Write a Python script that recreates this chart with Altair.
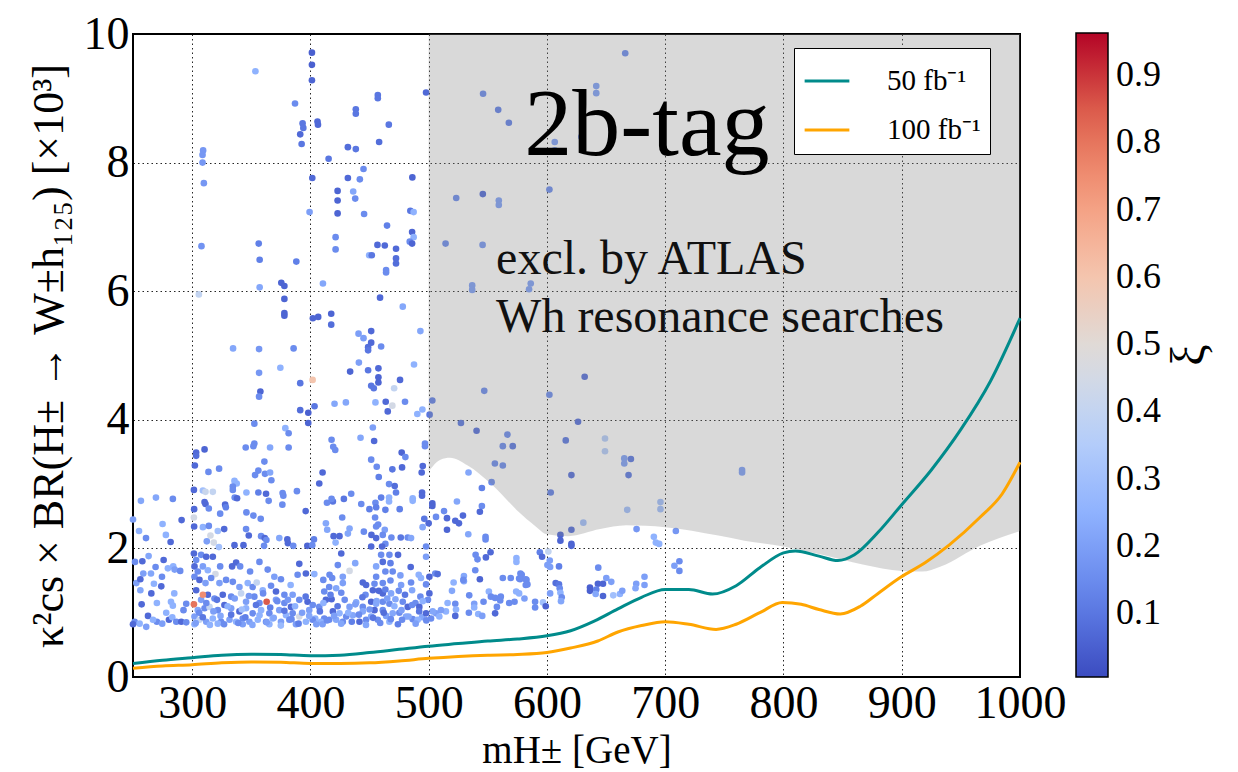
import altair as alt
import pandas as pd

# ---------------- data ----------------
# scatter points: (m_H [GeV], kappa^2 x BR [x1e3], xi)
pts_upper_left = [
    (401.3, 9.71, 0.05), (401.3, 9.52, 0.05), (401.3, 9.28, 0.06), (353.5, 9.42, 0.25),
    (387, 8.92, 0.15), (393.4, 8.61, 0.1), (394, 8.54, 0.1), (391.4, 8.44, 0.07),
    (392.6, 8.29, 0.1), (406, 8.64, 0.07), (406.4, 8.59, 0.07), (415.4, 8.06, 0.1),
    (309.3, 8.19, 0.18), (308.8, 8.12, 0.18), (308.8, 8.0, 0.18), (309.9, 7.68, 0.18),
    (401.6, 7.76, 0.07), (399.3, 7.23, 0.2), (307.9, 6.70, 0.17), (356.3, 6.74, 0.12),
    (357.1, 6.49, 0.12), (388.1, 6.46, 0.12), (357.1, 6.06, 0.22), (305.7, 5.95, 0.4),
    (375.4, 6.13, 0.06), (378, 6.08, 0.06), (378, 5.88, 0.06), (378, 5.66, 0.06),
    (378, 5.62, 0.06), (410.6, 6.12, 0.22), (402.1, 5.58, 0.06), (406.6, 5.6, 0.06),
    (417.6, 5.65, 0.06), (417.6, 5.48, 0.08), (334.6, 5.11, 0.22), (356.6, 5.10, 0.18),
    (385.8, 5.11, 0.15), (374.6, 4.81, 0.25), (356.6, 4.73, 0.18), (401.9, 4.62, 0.6),
    (391.4, 4.57, 0.1), (357.7, 4.44, 0.06), (356.6, 4.36, 0.15), (403.5, 4.21, 0.1),
    (391.4, 4.15, 0.08), (398.2, 4.11, 0.05), (352.6, 3.94, 0.15), (398.2, 3.95, 0.06),
]

pts_upper_mid = [
    (457, 9.05, 0.1), (457, 9.0, 0.1), (497.8, 9.09, 0.07), (438.4, 8.83, 0.1),
    (438.4, 8.76, 0.1), (466.3, 8.59, 0.1), (458.1, 8.32, 0.08), (431.7, 8.24, 0.08),
    (438.4, 8.21, 0.1), (444.9, 7.90, 0.15), (431.7, 7.76, 0.07), (441.8, 7.74, 0.15),
    (486.2, 7.77, 0.06), (423, 7.56, 0.06), (436.2, 7.55, 0.22), (437.9, 7.44, 0.15),
    (423, 7.41, 0.06), (423, 7.21, 0.06), (445.4, 7.2, 0.15), (484.5, 7.25, 0.1),
    (487.3, 7.23, 0.25), (464.8, 7.02, 0.12), (421.3, 6.84, 0.15), (421.3, 6.65, 0.15),
    (456.7, 6.72, 0.07), (462.9, 6.71, 0.07), (486, 6.92, 0.06), (487.3, 6.84, 0.25),
    (484, 6.77, 0.15), (486, 6.74, 0.06), (472.4, 6.66, 0.07), (472.4, 6.51, 0.08),
    (472.4, 6.43, 0.08), (449.7, 6.56, 0.25), (451.9, 6.56, 0.1), (464, 6.33, 0.15),
    (464, 6.29, 0.15), (458.9, 5.90, 0.07), (478.1, 5.76, 0.22), (440.7, 5.34, 0.2),
    (444.9, 5.27, 0.2), (451.4, 5.38, 0.07), (451.4, 5.20, 0.07), (448.8, 5.13, 0.08),
    (448.8, 5.08, 0.1), (459.8, 5.14, 0.15), (493, 5.38, 0.22), (441, 4.89, 0.2),
    (433.6, 4.75, 0.06), (448.8, 4.77, 0.1), (457.5, 4.80, 0.07), (457.5, 4.66, 0.06),
    (457.5, 4.58, 0.06), (451.4, 4.53, 0.1), (453.6, 4.49, 0.1), (475.8, 4.62, 0.07),
    (470.8, 4.49, 0.4), (487.6, 4.86, 0.25), (420.4, 4.25, 0.22), (430, 4.27, 0.22),
    (455, 4.27, 0.25), (463.7, 4.28, 0.07), (469.3, 4.22, 0.45), (480, 4.28, 0.15),
    (465.4, 4.13, 0.07), (490.4, 4.09, 0.25), (494.7, 4.16, 0.25), (500.8, 4.08, 0.1),
    (503.1, 4.30, 0.12), (546, 9.07, 0.15), (558.8, 8.82, 0.12), (567.8, 8.62, 0.12),
    (523.3, 7.45, 0.15), (545.8, 7.51, 0.07), (559.3, 7.41, 0.2), (559.3, 7.34, 0.2),
    (514.3, 6.74, 0.15), (545.6, 6.72, 0.18), (536.8, 6.09, 0.2), (536.8, 6.02, 0.2),
    (547, 4.45, 0.15), (527.3, 3.95, 0.1),
]

pts_upper_right = [
    (666.2, 9.70, 0.15), (641.7, 9.19, 0.2), (641.7, 9.08, 0.2), (629.1, 8.40, 0.15),
    (606.6, 8.32, 0.2), (606.6, 8.19, 0.2), (602.1, 7.58, 0.15), (586.3, 6.12, 0.2),
    (584.9, 6.03, 0.2), (631.9, 4.67, 0.08), (602.1, 4.39, 0.15), (626.3, 3.97, 0.08),
    (765, 3.22, 0.2), (765, 3.18, 0.2),
]

pts_lower_right = [
    (615.9, 3.68, 0.1), (649.1, 3.71, 0.35), (649.1, 3.51, 0.35), (665.4, 3.40, 0.2),
    (665.4, 3.32, 0.2), (671, 3.39, 0.1), (620.7, 3.14, 0.08), (669, 3.14, 0.1),
    (603.2, 2.87, 0.12), (630.8, 2.40, 0.3), (696, 2.72, 0.3), (696, 2.61, 0.3),
    (667.9, 2.60, 0.3), (620.7, 2.29, 0.08), (611.4, 2.21, 0.06), (611.4, 2.12, 0.06),
    (620.7, 2.07, 0.06), (620.7, 2.04, 0.06), (675.8, 2.30, 0.18), (690.4, 2.18, 0.25),
    (692.1, 2.09, 0.25), (694.9, 2.07, 0.25), (709, 2.27, 0.18), (594, 1.94, 0.12),
    (595.9, 1.87, 0.07), (601.2, 1.95, 0.4), (602.4, 1.81, 0.2), (600.4, 1.74, 0.2),
    (602.7, 1.71, 0.2), (610.2, 1.72, 0.12), (643.4, 1.70, 0.15), (712, 1.80, 0.15),
    (707.8, 1.73, 0.2), (712, 1.65, 0.15), (650.2, 1.54, 0.2), (654.4, 1.48, 0.2),
    (682.5, 1.56, 0.2), (675.5, 1.45, 0.2), (682.5, 1.43, 0.2), (674.9, 1.38, 0.22),
    (607.4, 1.46, 0.08), (610.2, 1.44, 0.1), (610.8, 1.38, 0.15), (611.4, 1.31, 0.25),
    (636.4, 1.39, 0.05), (636.4, 1.34, 0.05), (643.1, 1.45, 0.06), (647.4, 1.45, 0.06),
    (641.7, 1.36, 0.12), (641.2, 1.29, 0.22), (647.4, 1.26, 0.06), (656.1, 1.27, 0.3),
    (661.7, 1.29, 0.25), (663.7, 1.34, 0.2), (612.5, 1.24, 0.15), (611.9, 1.18, 0.22),
    (602.7, 1.30, 0.2), (581, 1.22, 0.2), (590, 1.17, 0.15), (590, 1.08, 0.15),
    (596.7, 1.16, 0.3), (599, 1.10, 0.05), (576.5, 1.53, 0.15), (578.7, 1.59, 0.15),
    (582.7, 1.51, 0.15), (583.5, 1.44, 0.15), (576.5, 1.30, 0.25),
]

pts_lower_mid = [
    (540.5, 3.83, 0.08), (566.6, 3.77, 0.15), (562.7, 3.59, 0.15), (571.1, 3.59, 0.1),
    (556, 3.32, 0.15), (562.7, 3.29, 0.15), (553.2, 3.03, 0.15), (533.7, 3.18, 0.22),
    (545, 2.94, 0.12), (503.1, 2.70, 0.06), (503.1, 2.66, 0.06), (523.9, 2.73, 0.22),
    (545, 2.66, 0.15), (543.3, 2.57, 0.07), (513, 2.58, 0.15), (506.2, 2.49, 0.15),
    (515.5, 2.47, 0.07), (522.5, 2.43, 0.07), (525.6, 2.39, 0.07), (529, 2.51, 0.07),
    (515.5, 2.29, 0.06), (533.5, 2.22, 0.22), (548.1, 2.18, 0.15), (548.1, 2.14, 0.15),
    (539.7, 1.90, 0.15), (541.3, 1.83, 0.15), (548.4, 1.86, 0.07), (552.3, 1.94, 0.07),
    (574.2, 1.85, 0.25), (574.2, 1.79, 0.25), (539.4, 1.66, 0.15), (543.3, 1.52, 0.06),
    (529.8, 1.57, 0.22), (529.8, 1.49, 0.22), (521.1, 1.47, 0.25), (505.6, 1.61, 0.15),
    (507.6, 1.60, 0.08), (562.7, 1.54, 0.15), (569.4, 1.54, 0.15), (577.6, 1.61, 0.15),
    (577.3, 1.52, 0.15), (582.1, 1.52, 0.15), (582.1, 1.43, 0.15), (574, 1.33, 0.25),
    (550.9, 1.33, 0.25), (552.6, 1.25, 0.15), (556.2, 1.23, 0.15), (561, 1.25, 0.15),
    (560.5, 1.19, 0.15), (557.7, 1.09, 0.15), (556.2, 0.99, 0.07), (568.1, 1.15, 0.15),
    (572.6, 1.17, 0.15), (546.4, 1.17, 0.15), (538.5, 1.14, 0.2), (538.5, 1.08, 0.25),
    (541.9, 0.98, 0.25), (545.3, 0.95, 0.2), (534, 1.00, 0.15), (534.3, 1.27, 0.15),
    (522.5, 1.14, 0.15), (523.1, 1.05, 0.25), (522.5, 0.95, 0.07), (516, 1.15, 0.25),
    (514.6, 1.02, 0.25), (519.7, 1.34, 0.22), (529.3, 1.51, 0.15), (510.4, 1.04, 0.2),
    (506.2, 0.99, 0.2), (503.4, 1.02, 0.22), (502, 0.91, 0.15), (509, 0.94, 0.25),
    (452.8, 3.88, 0.2), (442.4, 3.72, 0.22), (453.9, 3.67, 0.07), (417.9, 3.69, 0.15),
    (419.3, 3.58, 0.15), (421, 3.53, 0.15), (496.9, 3.63, 0.15), (496.9, 3.59, 0.15),
    (477.2, 3.49, 0.06), (480.3, 3.42, 0.15), (451.4, 3.38, 0.15), (495, 3.28, 0.07),
    (456.1, 3.27, 0.15), (469.3, 3.23, 0.1), (477.5, 3.26, 0.07), (494.1, 3.18, 0.07),
    (457.8, 3.11, 0.12), (466.5, 3.00, 0.15), (471.3, 2.97, 0.08), (472.4, 2.87, 0.12),
    (434.5, 2.85, 0.15), (428.3, 2.77, 0.1), (419, 2.73, 0.1), (459.8, 2.79, 0.12),
    (466.5, 2.79, 0.25), (466.5, 2.73, 0.25), (455, 2.71, 0.15), (443, 2.69, 0.15),
    (449.9, 2.61, 0.12), (455.6, 2.64, 0.12), (463.4, 2.60, 0.12), (475.5, 2.61, 0.12),
    (486.5, 2.78, 0.25), (486.5, 2.74, 0.25), (494.4, 2.87, 0.07), (494.4, 2.82, 0.07),
    (426.9, 2.48, 0.15), (454.7, 2.48, 0.15), (496.3, 2.46, 0.1), (500, 2.39, 0.07),
    (494.9, 2.33, 0.22), (455.6, 2.34, 0.15), (457.3, 2.37, 0.15), (433.1, 2.31, 0.22),
    (431.7, 2.23, 0.22), (445.2, 2.26, 0.15), (462.9, 2.29, 0.2), (451.6, 2.21, 0.07),
    (455.6, 2.16, 0.07), (461.2, 2.21, 0.15), (468.5, 2.17, 0.15), (463.4, 2.07, 0.15),
    (476.4, 2.17, 0.1), (482.3, 2.17, 0.15), (485.1, 2.16, 0.22), (419.6, 2.19, 0.07),
    (424.6, 2.19, 0.07), (421.3, 2.09, 0.25), (451.4, 2.03, 0.07), (460.6, 2.03, 0.07),
    (426.1, 1.92, 0.07), (459.8, 1.90, 0.15), (466.8, 1.90, 0.15), (474.1, 1.90, 0.07),
    (497.8, 2.03, 0.15), (497.8, 1.87, 0.2), (461.2, 1.79, 0.08), (467.7, 1.77, 0.12),
    (455.6, 1.72, 0.22), (484.8, 1.71, 0.07), (423.2, 1.74, 0.15), (437.9, 1.77, 0.22),
    (433.1, 1.65, 0.45), (427.4, 1.56, 0.2), (416.2, 1.59, 0.15), (463.4, 1.64, 0.15),
    (469.6, 1.64, 0.15), (476.1, 1.58, 0.2), (491.6, 1.59, 0.25), (500.6, 1.56, 0.06),
    (455.6, 1.56, 0.15), (444.3, 1.47, 0.07), (447.1, 1.43, 0.07), (454.2, 1.45, 0.15),
    (461.2, 1.46, 0.15), (467.7, 1.50, 0.15), (476.7, 1.43, 0.2), (485.1, 1.47, 0.15),
    (493.5, 1.54, 0.25), (497.8, 1.44, 0.15), (418.4, 1.54, 0.15), (427.4, 1.46, 0.2),
    (421.8, 1.38, 0.22), (426.1, 1.31, 0.15), (417.9, 1.21, 0.07), (433.1, 1.09, 0.2),
    (438.7, 1.16, 0.22), (446.6, 1.28, 0.15), (452.8, 1.35, 0.07), (457.8, 1.34, 0.07),
    (461.2, 1.30, 0.07), (463.4, 1.36, 0.12), (468.2, 1.30, 0.22), (474.7, 1.34, 0.15),
    (486, 1.35, 0.22), (493, 1.25, 0.15), (500.6, 1.30, 0.07), (499.4, 1.20, 0.15),
    (451.4, 1.17, 0.06), (455.6, 1.14, 0.22), (461.2, 1.17, 0.15), (466.8, 1.14, 0.15),
    (471.9, 1.21, 0.22), (478.1, 1.17, 0.15), (482.3, 1.09, 0.07), (488.8, 1.15, 0.15),
    (492.1, 1.09, 0.07), (454.2, 1.04, 0.07), (461.2, 1.04, 0.15), (464, 0.95, 0.2),
    (469.6, 0.99, 0.22), (475.2, 1.00, 0.15), (480.9, 0.94, 0.22), (486.5, 0.90, 0.15),
    (494.4, 0.93, 0.22), (497.8, 0.99, 0.07), (419, 1.02, 0.07), (424.6, 0.99, 0.25),
    (421.8, 0.89, 0.22), (430.3, 0.94, 0.15), (435.9, 0.96, 0.22), (441.5, 0.86, 0.07),
    (447.1, 0.89, 0.15), (451.4, 0.94, 0.22), (457, 0.89, 0.15), (466.8, 0.86, 0.25),
    (477.5, 0.89, 0.15), (490.7, 0.89, 0.25), (427.4, 0.86, 0.15), (444.3, 1.09, 0.15),
    (444.3, 1.02, 0.22),
]

pts_lower_left = [
    (378.8, 3.87, 0.25), (381.6, 3.79, 0.15), (365.9, 3.57, 0.22), (352.6, 3.63, 0.15),
    (351.8, 3.59, 0.15), (345.3, 3.57, 0.15), (381.6, 3.57, 0.15), (361.1, 3.35, 0.15),
    (310.5, 3.54, 0.06), (303.4, 3.49, 0.07), (303.4, 3.44, 0.08), (302.3, 3.29, 0.07),
    (313.8, 3.19, 0.15), (322.8, 3.24, 0.15), (356, 3.21, 0.15), (353.2, 3.14, 0.15),
    (361.6, 3.16, 0.15), (365.9, 3.18, 0.22), (367, 3.06, 0.15), (335.8, 3.05, 0.25),
    (337.7, 3.01, 0.25), (334.4, 2.96, 0.15), (334.4, 2.91, 0.15), (301.5, 2.91, 0.07),
    (309.1, 2.90, 0.3), (317.5, 2.88, 0.4), (311.3, 2.88, 0.42), (345.9, 2.87, 0.25),
    (356, 2.87, 0.12), (362.5, 2.85, 0.07), (376.5, 2.86, 0.15), (377.1, 2.82, 0.15),
    (388.6, 2.89, 0.15), (364.7, 2.74, 0.15), (336, 2.79, 0.15), (338, 2.78, 0.07),
    (310.5, 2.72, 0.07), (311.3, 2.69, 0.07), (314.1, 2.62, 0.15), (327.9, 2.68, 0.07),
    (328.5, 2.64, 0.12), (301.7, 2.61, 0.07), (323.7, 2.54, 0.15), (345.9, 2.56, 0.15),
    (376.3, 2.68, 0.15), (396, 2.58, 0.07), (351.8, 2.51, 0.15), (358, 2.46, 0.15),
    (301.5, 2.48, 0.45), (301.7, 2.34, 0.07), (309.1, 2.33, 0.25), (314.1, 2.35, 0.15),
    (321.7, 2.27, 0.3), (327.1, 2.30, 0.07), (345.6, 2.30, 0.15), (347.9, 2.20, 0.07),
    (358.3, 2.19, 0.15), (361.4, 2.16, 0.07), (362.8, 2.13, 0.15), (373.7, 2.16, 0.22),
    (380.5, 2.14, 0.07), (381, 2.08, 0.07), (403, 2.14, 0.12), (315.5, 2.20, 0.45),
    (318.3, 2.09, 0.45), (322.6, 2.02, 0.3), (312.4, 2.11, 0.2), (335.8, 2.05, 0.07),
    (343.4, 2.05, 0.07), (360.8, 2.04, 0.15), (385.5, 2.04, 0.15), (397.4, 2.04, 0.06),
    (401.6, 2.05, 0.15), (414, 2.71, 0.15), (410.3, 3.18, 0.07), (407.5, 3.01, 0.07),
    (417.9, 2.77, 0.15), (413.1, 2.39, 0.22), (414.2, 2.29, 0.22),
    (256.7, 2.74, 0.22), (269.4, 2.79, 0.22), (283.7, 2.77, 0.15), (291.1, 2.44, 0.07),
    (275, 2.38, 0.25), (255.1, 2.27, 0.25), (277.8, 2.21, 0.25), (261, 2.16, 0.15),
    (281.8, 2.10, 0.07), (250, 2.45, 0.2), (257.9, 1.80, 0.07), (251.7, 1.79, 0.15),
    (263.2, 1.88, 0.22), (269.1, 1.71, 0.15), (275.9, 1.82, 0.07), (279.5, 1.69, 0.25),
    (284, 1.72, 0.25), (285.2, 1.67, 0.2), (289.9, 1.65, 0.15), (258.7, 1.61, 0.2),
    (265.2, 1.61, 0.22), (274.5, 1.56, 0.15), (252.8, 1.46, 0.2), (267.7, 1.45, 0.25),
    (273.9, 1.41, 0.07), (256.2, 1.35, 0.22), (265.5, 1.30, 0.07), (284.9, 1.30, 0.25),
    (257.3, 1.13, 0.07), (270.2, 1.15, 0.25), (282.1, 1.17, 0.25), (283.7, 1.11, 0.25),
    (295, 1.14, 0.15), (256.2, 1.52, 0.07), (292.7, 1.04, 0.15), (262.7, 0.95, 0.07),
    (251.4, 0.86, 0.15), (255.6, 0.83, 0.25), (261.2, 0.78, 0.2), (270.2, 0.86, 0.15),
    (274.7, 0.83, 0.2), (278.1, 1.00, 0.25), (280.4, 0.89, 0.07), (283.2, 0.93, 0.25),
    (286.6, 0.86, 0.15), (290.8, 0.86, 0.07), (295, 0.85, 0.15), (250, 0.82, 0.07),
    (266.9, 0.89, 0.25),
]

pts_dense_band = [
    (301.5, 1.92, 0.07), (307.6, 1.90, 0.15), (311.9, 1.87, 0.07), (317.5, 1.87, 0.07),
    (323.7, 1.72, 0.15), (333.8, 1.72, 0.07), (337.2, 1.78, 0.07), (340.6, 1.72, 0.15),
    (349, 1.64, 0.15), (356.9, 1.79, 0.15), (363.9, 1.67, 0.15), (369.5, 1.56, 0.2),
    (375.1, 1.52, 0.15), (383.3, 1.43, 0.25), (390.6, 1.76, 0.07), (389.2, 1.59, 0.15),
    (396.2, 1.61, 0.07), (403.3, 1.60, 0.25), (410.9, 1.51, 0.15), (415.9, 1.40, 0.15),
    (411.7, 1.33, 0.15), (413.1, 1.20, 0.07), (407.5, 1.09, 0.15), (397.6, 1.17, 0.07),
    (399, 1.04, 0.2), (404.1, 0.91, 0.25), (411.7, 0.91, 0.15), (390.6, 0.94, 0.45),
    (303.4, 1.82, 0.15), (302, 1.72, 0.07), (304.8, 1.64, 0.15), (309.1, 1.72, 0.2),
    (313.3, 1.66, 0.25), (319.7, 1.60, 0.45), (302, 1.56, 0.15), (306.2, 1.51, 0.07),
    (311.3, 1.46, 0.2), (316.1, 1.54, 0.15), (323.1, 1.46, 0.2), (328.7, 1.51, 0.15),
    (334.4, 1.48, 0.15), (340, 1.40, 0.2), (347, 1.46, 0.25), (351.2, 1.40, 0.15),
    (354.6, 1.47, 0.4), (359.7, 1.35, 0.25), (366.7, 1.42, 0.15), (370.9, 1.33, 0.07),
    (378, 1.28, 0.15), (385, 1.28, 0.2), (390.6, 1.20, 0.15), (303.4, 1.35, 0.07),
    (307.6, 1.20, 0.2), (313.3, 1.28, 0.07), (318.9, 1.22, 0.15), (325.9, 1.28, 0.07),
    (333, 1.25, 0.15), (341.4, 1.30, 0.4), (345.6, 1.17, 0.2), (352.6, 1.25, 0.15),
    (356.9, 1.15, 0.15), (370.9, 1.20, 0.2), (378, 1.15, 0.15), (383.6, 1.09, 0.07),
    (304.8, 1.04, 0.22), (310.5, 1.07, 0.15), (314.7, 1.09, 0.4), (321.7, 1.04, 0.15),
    (327.3, 1.12, 0.07), (333, 1.07, 0.2), (340, 1.02, 0.07), (345.6, 1.07, 0.25),
    (351.2, 0.99, 0.15), (358.3, 1.04, 0.25), (365.3, 0.99, 0.15), (373.7, 1.04, 0.2),
    (379.4, 0.96, 0.25), (385, 0.99, 0.15), (302, 0.94, 0.2), (306.2, 0.89, 0.4),
    (311.9, 0.86, 0.2), (317.5, 0.91, 0.25), (324.5, 0.86, 0.15), (331.6, 0.89, 0.2),
    (337.2, 0.86, 0.25), (342.8, 0.91, 0.15), (348.4, 0.86, 0.2), (355.5, 0.89, 0.25),
    (362.5, 0.86, 0.15), (368.1, 0.91, 0.25), (375.1, 0.86, 0.2), (382.2, 0.89, 0.15),
    (396.2, 0.86, 0.25), (401.9, 0.89, 0.15), (408.9, 0.86, 0.25), (415.9, 0.89, 0.15),
    (321.7, 0.83, 0.25), (342.8, 0.82, 0.2), (365.3, 0.82, 0.25), (387.8, 0.82, 0.2),
    (302, 0.82, 0.25), (410.3, 0.82, 0.2),
    (303, 0.84, 0.2), (306, 1.0, 0.15), (309, 0.93, 0.1), (312, 1.15, 0.15), (315, 0.81, 0.25),
    (318, 1.02, 0.2), (321, 1.2, 0.1), (324, 0.95, 0.22), (327, 0.82, 0.15), (330, 1.1, 0.25),
    (333, 0.97, 0.1), (336, 1.22, 0.2), (339, 0.84, 0.15), (342, 1.05, 0.3), (345, 0.93, 0.12),
    (348, 1.26, 0.18), (351, 0.81, 0.22), (354, 1.12, 0.1), (357, 0.96, 0.25), (360, 1.3, 0.15),
    (363, 0.85, 0.2), (366, 1.08, 0.12), (369, 0.92, 0.22), (372, 1.18, 0.15), (375, 0.8, 0.28),
    (378, 1.03, 0.1), (381, 1.2, 0.18), (384, 0.9, 0.15), (387, 1.1, 0.25), (390, 0.83, 0.12),
    (393, 1.0, 0.2), (396, 1.25, 0.1), (399, 0.95, 0.22), (402, 1.12, 0.15), (405, 0.82, 0.2),
    (408, 1.02, 0.1), (411, 1.15, 0.25), (414, 0.88, 0.15), (417, 1.28, 0.12), (420, 0.95, 0.2),
    (423, 1.1, 0.1), (426, 0.83, 0.22), (429, 1.2, 0.15), (432, 1.0, 0.25), (435, 0.86, 0.12),
    (438, 1.13, 0.2), (441, 0.97, 0.15), (444, 1.24, 0.1), (447, 0.81, 0.22), (450, 1.05, 0.18),
    (453, 0.92, 0.1), (456, 1.18, 0.22), (459, 0.84, 0.15), (462, 1.0, 0.08), (465, 1.22, 0.2),
    (468, 0.9, 0.15), (471, 1.1, 0.25), (474, 0.82, 0.12), (477, 1.04, 0.2), (480, 1.28, 0.1),
    (483, 0.94, 0.22), (486, 1.12, 0.15), (489, 0.83, 0.2), (492, 1.02, 0.1), (495, 1.18, 0.25),
    (498, 0.88, 0.15),
    (363, 1.17, 0.85), (301.5, 1.13, 0.8), (309.1, 1.28, 0.75),
]

# 50 fb^-1 projected reach
reach50_m = [250, 275, 300, 325, 350, 375, 400, 425, 450, 475, 500, 525, 550, 575, 600, 620,
             640, 660, 680, 700, 720, 740, 760, 780, 800, 810, 830, 846, 860, 880, 900, 925,
             950, 975, 1000]
reach50_v = [0.21, 0.26, 0.30, 0.34, 0.355, 0.35, 0.33, 0.34, 0.38, 0.43, 0.48, 0.52, 0.56,
             0.59, 0.64, 0.72, 0.87, 1.06, 1.24, 1.36, 1.36, 1.29, 1.42, 1.70, 1.93, 1.96,
             1.88, 1.81, 1.90, 2.25, 2.68, 3.22, 3.85, 4.6, 5.58]
# 100 fb^-1 projected reach
reach100_m = [250, 275, 300, 325, 350, 375, 400, 425, 450, 475, 500, 525, 550, 575, 600, 620,
              643, 660, 680, 700, 720, 743, 760, 780, 799, 815, 830, 848, 865, 880, 899, 920,
              940, 966, 985, 1000]
reach100_v = [0.135, 0.17, 0.19, 0.22, 0.235, 0.23, 0.21, 0.21, 0.22, 0.25, 0.29, 0.32, 0.34,
              0.35, 0.38, 0.45, 0.56, 0.70, 0.80, 0.86, 0.82, 0.74, 0.82, 1.0, 1.16, 1.13,
              1.05, 0.98, 1.10, 1.30, 1.55, 1.78, 2.05, 2.48, 2.85, 3.34]
series_names = ["50 fb\u207b\u00b9", "100 fb\u207b\u00b9"]

# ATLAS Wh exclusion boundary
excl_m = [500, 510, 518, 533, 553, 576, 590, 600, 618, 645, 667, 700, 745, 767, 800, 833,
          867, 900, 917, 933, 967, 1000]
excl_v = [3.2, 3.38, 3.41, 3.29, 3.0, 2.57, 2.35, 2.22, 2.19, 2.30, 2.36, 2.33, 2.20, 2.12,
          2.03, 1.9, 1.75, 1.65, 1.64, 1.72, 2.05, 2.27]

x_ticks = [300, 400, 500, 600, 700, 800, 900, 1000]
y_ticks = [0, 2, 4, 6, 8, 10]
cbar_ticks = [0.1, 0.2, 0.3, 0.4, 0.5, 0.6, 0.7, 0.8, 0.9]
xi_min, xi_max = 0.005, 0.9625
coolwarm = ["#3b4cc0", "#6282ea", "#8db0fe", "#b8d0f9", "#dddddd",
            "#f5c4ad", "#f49a7b", "#de604d", "#b40426"]

annot_main = [(684.5, 8.12, "2b-tag")]
annot_excl = [(557.0, 6.27, "excl. by ATLAS"), (557.0, 5.37, "Wh resonance searches")]
cbar_title = "\u03be"

# ---------------- build tables ----------------
all_pts = (pts_upper_left + pts_upper_mid + pts_upper_right + pts_lower_right +
           pts_lower_mid + pts_lower_left + pts_dense_band)
df_pts = pd.DataFrame(all_pts, columns=["m", "v", "xi"])

df_lines = pd.concat([
    pd.DataFrame({"m": reach50_m, "v": reach50_v, "series": series_names[0]}),
    pd.DataFrame({"m": reach100_m, "v": reach100_v, "series": series_names[1]}),
])
df_excl = pd.DataFrame({"m": excl_m, "v": excl_v})
df_main = pd.DataFrame(annot_main, columns=["m", "v", "t"])
df_excl_txt = pd.DataFrame(annot_excl, columns=["m", "v", "t"])

n = len(coolwarm)
stops = [xi_min + (xi_max - xi_min) * i / (n - 1) for i in range(n)]

FONT = "Liberation Serif"

xscale = alt.Scale(domain=[250, 1000], nice=False, zero=False)
yscale = alt.Scale(domain=[0, 10], nice=False)

xaxis = alt.Axis(values=x_ticks, format="d", title="mH\u00b1 [GeV]", grid=True,
                 gridDash=[1.5, 3], gridColor="black", gridOpacity=0.85, gridWidth=1,
                 ticks=False, domain=False, labelFontSize=46, labelFont=FONT,
                 labelColor="black", labelPadding=4, labelFlush=False, titleFont=FONT,
                 titleFontSize=39, titleFontWeight="normal", titleColor="black",
                 titlePadding=5, labelOverlap=False)
yaxis = alt.Axis(values=y_ticks, format="d",
                 title="\u03ba\u00b2cs \u00d7 BR(H\u00b1 \u2192 W\u00b1h\u2081\u2082\u2085) [\u00d710\u00b3]",
                 grid=True, gridDash=[1.5, 3], gridColor="black", gridOpacity=0.85, gridWidth=1,
                 ticks=False, domain=False, labelFontSize=46, labelFont=FONT, labelColor="black",
                 labelPadding=4, labelFlush=False, titleFont=FONT, titleFontSize=44,
                 titleFontWeight="normal", titleColor="black", titlePadding=12,
                 labelOverlap=False)

points = alt.Chart(df_pts).mark_circle(size=44, opacity=1, strokeWidth=0).encode(
    x=alt.X("m:Q", scale=xscale, axis=xaxis),
    y=alt.Y("v:Q", scale=yscale, axis=yaxis),
    color=alt.Color("xi:Q",
                    scale=alt.Scale(domain=stops, range=coolwarm, interpolate="rgb"),
                    legend=alt.Legend(orient="none", legendX=943, legendY=-1, direction="vertical",
                                      gradientLength=644, gradientThickness=32,
                                      gradientStrokeColor="black", gradientStrokeWidth=1.5,
                                      values=cbar_ticks, format=".1f", labelFont=FONT,
                                      labelFontSize=36, labelColor="black", labelOffset=8,
                                      labelOverlap=False, title=None, padding=0)),
)

excl = alt.Chart(df_excl).mark_area(color="#808080", opacity=0.3, interpolate="monotone").encode(
    x=alt.X("m:Q", scale=xscale),
    y=alt.Y("v:Q", scale=yscale),
    y2=alt.datum(10),
)

lines = alt.Chart(df_lines).mark_line(strokeWidth=3, interpolate="monotone").encode(
    x=alt.X("m:Q", scale=xscale),
    y=alt.Y("v:Q", scale=yscale),
    stroke=alt.Stroke("series:N",
                      scale=alt.Scale(domain=series_names, range=["#008b8b", "#ffa500"]),
                      legend=alt.Legend(orient="none", legendX=661, legendY=14, title=None,
                                        symbolType="stroke", symbolSize=2000,
                                        symbolStrokeWidth=3, labelFont=FONT, labelFontSize=29,
                                        labelColor="black", labelOffset=36, rowPadding=10,
                                        padding=9, strokeColor="black", fillColor="white",
                                        cornerRadius=0)),
    order=alt.Order("m:Q"),
)

txt_main = alt.Chart(df_main).mark_text(font=FONT, fontSize=96, align="center",
                                        baseline="alphabetic", color="black").encode(
    x=alt.X("m:Q", scale=xscale), y=alt.Y("v:Q", scale=yscale), text="t:N")

txt_excl = alt.Chart(df_excl_txt).mark_text(font=FONT, fontSize=48, align="left",
                                            baseline="alphabetic", color="#111111").encode(
    x=alt.X("m:Q", scale=xscale), y=alt.Y("v:Q", scale=yscale), text="t:N")

# colour-bar title, rotated like matplotlib's colorbar label
cbar_lbl = alt.Chart(pd.DataFrame({"t": [cbar_title]})).mark_text(
    font=FONT, fontSize=48, angle=270, align="center", baseline="middle", color="black"
).encode(x=alt.value(1057), y=alt.value(321), text="t:N")

chart = alt.layer(points, excl, lines, txt_main, txt_excl, cbar_lbl).resolve_scale(
    color="independent", stroke="independent"
).properties(
    width=887, height=643,
    padding={"left": 133, "top": 34, "right": 218, "bottom": 95},
    autosize=alt.AutoSizeParams(type="none"),
    background="white",
).configure_view(stroke="black", strokeWidth=2)

chart.save("out.html", embed_options={"renderer": "svg", "actions": False})
